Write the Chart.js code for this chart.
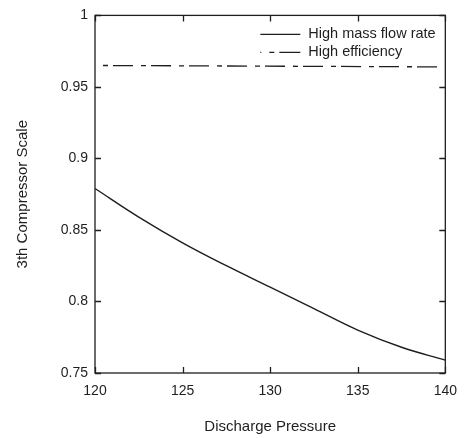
<!DOCTYPE html>
<html>
<head>
<meta charset="utf-8">
<script src="https://cdn.jsdelivr.net/npm/chart.js@4"></script>
<style>
  html, body { margin: 0; padding: 0; background: #fff; }
  #wrap { width: 467px; height: 438px; }
</style>
</head>
<body>
<div id="wrap"><canvas id="myChart" width="467" height="438"></canvas></div>
<script>
// data
const pressure = [120, 122.5, 125, 127.5, 130, 132.5, 135, 137.5, 140];
const massFlowScale = [0.879, 0.859, 0.841, 0.825, 0.810, 0.795, 0.780, 0.768, 0.759];
const efficiencyPressure = [120, 140];
const efficiencyScale = [0.965, 0.964];
const xTicks = [120, 125, 130, 135, 140];
const yTicks = [0.75, 0.8, 0.85, 0.9, 0.95, 1];
const seriesNames = ['High mass flow rate', 'High efficiency'];

const ink = '#1e1e1e';
const dashDot = [5, 5, 20, 8];

// inward ticks on all four sides + the frame
const frameTicks = {
  id: 'frameTicks',
  afterDraw(chart) {
    const { ctx, chartArea: a, scales } = chart;
    ctx.save();
    ctx.strokeStyle = ink;
    ctx.lineWidth = 1.3;
    ctx.strokeRect(a.left, a.top, a.right - a.left, a.bottom - a.top);
    const len = 6;
    ctx.beginPath();
    xTicks.forEach(v => {
      const px = Math.round(scales.x.getPixelForValue(v)) + 0.5;
      ctx.moveTo(px, a.bottom); ctx.lineTo(px, a.bottom - len);
      ctx.moveTo(px, a.top); ctx.lineTo(px, a.top + len);
    });
    yTicks.forEach(v => {
      const py = Math.round(scales.y.getPixelForValue(v)) + 0.5;
      ctx.moveTo(a.left, py); ctx.lineTo(a.left + len, py);
      ctx.moveTo(a.right, py); ctx.lineTo(a.right - len, py);
    });
    ctx.stroke();

    // legend, top right inside the box
    ctx.font = '14.5px "Liberation Sans", Arial, sans-serif';
    ctx.fillStyle = ink;
    ctx.textBaseline = 'middle';
    const x0 = a.right - 185, x1 = a.right - 145, tx = a.right - 137;
    const rows = [a.top + 19, a.top + 37];
    ctx.lineWidth = 1.2;
    ctx.beginPath();
    ctx.moveTo(x0, rows[0]); ctx.lineTo(x1, rows[0]);
    ctx.stroke();
    ctx.setLineDash([5, 5, 21, 8]);
    ctx.lineDashOffset = -9;
    ctx.beginPath();
    ctx.moveTo(x0, rows[1]); ctx.lineTo(x1, rows[1]);
    ctx.stroke();
    ctx.setLineDash([]);
    ctx.fillText(seriesNames[0], tx, rows[0]);
    ctx.fillText(seriesNames[1], tx, rows[1]);
    ctx.restore();
  }
};

const font = { family: '"Liberation Sans", Arial, sans-serif', size: 14 };
const titleFont = { family: '"Liberation Sans", Arial, sans-serif', size: 15 };

const myChart = new Chart(document.getElementById('myChart'), {
  type: 'scatter',
  data: {
    datasets: [
      {
        label: seriesNames[0],
        data: pressure.map((p, i) => ({ x: p, y: massFlowScale[i] })),
        showLine: true,
        borderColor: ink,
        borderWidth: 1.4,
        pointRadius: 0,
        tension: 0.4
      },
      {
        label: seriesNames[1],
        data: efficiencyPressure.map((p, i) => ({ x: p, y: efficiencyScale[i] })),
        showLine: true,
        borderColor: ink,
        borderWidth: 1.3,
        borderDash: dashDot,
        borderDashOffset: -8,
        pointRadius: 0
      }
    ]
  },
  options: {
    responsive: false,
    animation: false,
    layout: { padding: { left: 10, right: 18, top: 13, bottom: 2 } },
    plugins: { legend: { display: false }, tooltip: { enabled: false } },
    scales: {
      x: {
        type: 'linear',
        min: 120,
        max: 140,
        afterBuildTicks(scale) { scale.ticks = xTicks.map(v => ({ value: v })); },
        afterFit(scale) { scale.height = 63; },
        grid: { display: false, drawTicks: false },
        border: { display: false },
        ticks: { color: ink, font: font, padding: 10, maxRotation: 0 },
        title: {
          display: true, text: 'Discharge Pressure', color: ink, font: titleFont,
          padding: { top: 0, bottom: 0 }
        }
      },
      y: {
        type: 'linear',
        min: 0.75,
        max: 1,
        afterBuildTicks(scale) { scale.ticks = yTicks.map(v => ({ value: v })); },
        afterFit(scale) { scale.width = 85; },
        grid: { display: false, drawTicks: false },
        border: { display: false },
        ticks: { color: ink, font: font, padding: 7, callback: v => String(v) },
        title: {
          display: true, text: '3th Compressor Scale', color: ink, font: titleFont,
          padding: { top: 4, bottom: 0 }
        }
      }
    }
  },
  plugins: [frameTicks]
});
</script>
</body>
</html>
